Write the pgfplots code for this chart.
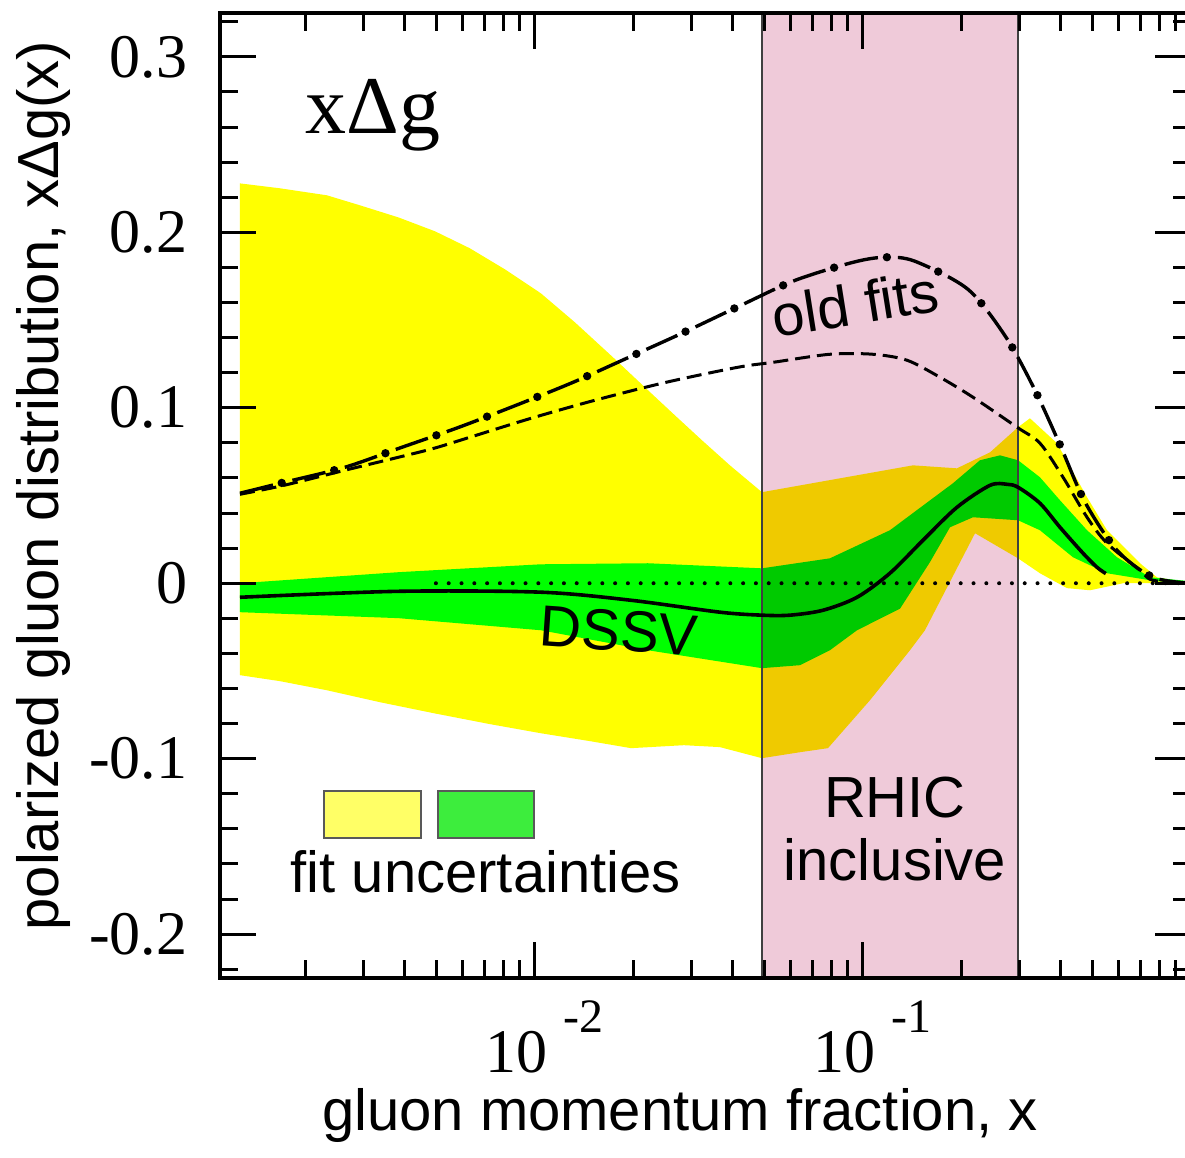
\documentclass[border=0pt]{standalone}
\usepackage{pgfplots}
\pgfplotsset{compat=1.18}
\usepackage{fontspec}
\setmainfont{Liberation Sans}
\newfontfamily\tnr{Liberation Serif}
\definecolor{bandyellow}{RGB}{255,255,0}
\definecolor{bandgreen}{RGB}{0,255,0}
\definecolor{rhicpink}{RGB}{239,202,217}
\definecolor{legyellow}{RGB}{255,255,102}
\definecolor{leggreen}{RGB}{61,237,61}
\newcommand{\lab}{\fontsize{14.5}{17}\selectfont}
\pgfplotstableread{
x y
0.001261 0.0513
0.001717 0.0575
0.002634 0.0661
0.003932 0.0775
0.005866 0.0889
0.008752 0.1014
0.01306 0.1145
0.01935 0.1288
0.02846 0.1430
0.04246 0.1584
0.06205 0.1726
0.09322 0.1829
0.1167 0.1858
0.1441 0.1835
0.2090 0.1675
0.2729 0.1402
0.3345 0.1100
0.4016 0.0775
0.4753 0.0462
0.5948 0.0188
0.7658 0.0034
1.0 0.0
}\dashdot
\begin{document}
\begin{tikzpicture}
\begin{axis}[
  at={(0,0)}, anchor=south west,
  scale only axis, width=242.75pt, height=241.25pt,
  xmode=log, xmin=1.096e-3, xmax=1, ymin=-0.225, ymax=0.325,
  axis on top,
  axis line style={line width=1pt},
  every tick/.style={black, line width=0.75pt},
  major tick length=9pt, minor tick length=4.5pt,
  tick align=inside,
  xtick={0.01,0.1},
  xticklabels={{10\hspace{4pt}\raisebox{10pt}{\fontsize{12}{12}\selectfont -2}},{10\hspace{4pt}\raisebox{10pt}{\fontsize{12}{12}\selectfont -1}}},
  minor xtick={0.002,0.003,0.004,0.005,0.006,0.007,0.008,0.009,0.02,0.03,0.04,0.05,0.06,0.07,0.08,0.09,0.2,0.3,0.4,0.5,0.6,0.7,0.8,0.9},
  ytick={-0.2,-0.1,0,0.1,0.2,0.3},
  yticklabels={-0.2,-0.1,0,0.1,0.2,0.3},
  minor ytick={-0.22,-0.18,-0.16,-0.14,-0.12,-0.08,-0.06,-0.04,-0.02,0.02,0.04,0.06,0.08,0.12,0.14,0.16,0.18,0.22,0.24,0.26,0.28,0.32},
  ticklabel style={font=\tnr\fontsize{15.5}{18}\selectfont},
  xticklabel style={anchor=base, inner sep=0pt, yshift=-23.5pt, xshift=2.4pt},
  yticklabel style={anchor=east, inner sep=0pt, xshift=-8pt},
  xlabel={gluon momentum fraction, x},
  xlabel style={at={(axis description cs:0.4737,0)}, anchor=base, inner sep=0pt, yshift=-38pt, font=\lab},
  ylabel={polarized gluon distribution, xΔg(x)},
  ylabel style={at={(axis description cs:-0.1668,0.5104)}, anchor=base, inner sep=0pt, font=\lab},
]
% yellow band
\addplot[draw=none, fill=bandyellow] coordinates {
(0.001261,0.2279) (0.001669,0.2251) (0.002322,0.2211) (0.002927,0.2154) (0.003836,0.2085)
(0.004956,0.2006) (0.006334,0.1909) (0.008101,0.1789) (0.01043,0.1652) (0.01324,0.1487)
(0.01729,0.1288) (0.02211,0.1100) (0.02671,0.0957) (0.03229,0.0815) (0.03930,0.0672)
(0.0492,0.0519) (0.1420,0.0672)
(0.1935,0.0655) (0.2439,0.0746) (0.2970,0.0889) (0.3229,0.0940) (0.3904,0.0798)
(0.4820,0.0490) (0.5546,0.0302) (0.6992,0.0114) (0.7875,0.0034) (1.0,0.0)
(0.6205,0.0) (0.4922,-0.0040) (0.4188,-0.0028) (0.3464,0.0057) (0.2970,0.0142)
(0.2196,0.0285) (0.1545,-0.0268) (0.1391,-0.0382) (0.1050,-0.0667) (0.0782,-0.0940)
(0.0643,-0.0963) (0.0492,-0.0997) (0.03664,-0.0934) (0.02846,-0.0923) (0.01963,-0.0940)
(0.01472,-0.0900) (0.01043,-0.0855) (0.007293,-0.0803) (0.004921,-0.0741) (0.003368,-0.0678)
(0.002322,-0.0610) (0.001669,-0.0558) (0.001261,-0.0524)
} -- cycle;
% green band
\addplot[draw=none, fill=bandgreen] coordinates {
(0.001261,0.0) (0.003836,0.0063) (0.01043,0.0108) (0.02211,0.0114) (0.0492,0.0085)
(0.0793,0.0142) (0.1208,0.0302) (0.1881,0.0570) (0.2274,0.0701) (0.2617,0.0729)
(0.2970,0.0701) (0.3464,0.0604) (0.3987,0.0473) (0.4820,0.0302) (0.5948,0.0148)
(0.7499,0.0034) (1.0,0.0011)
(1.0,-0.0006) (0.7499,0.0017) (0.5546,0.0057) (0.4368,0.0148) (0.3464,0.0302)
(0.2970,0.0359) (0.2165,0.0376) (0.1842,0.0319) (0.1600,0.0120) (0.1297,-0.0145)
(0.0959,-0.0268) (0.0793,-0.0382) (0.0643,-0.0467) (0.0492,-0.0484) (0.02211,-0.0382)
(0.01043,-0.0268) (0.003836,-0.0199) (0.001261,-0.0165)
} -- cycle;
% RHIC region
\addplot[draw=none, fill=rhicpink, blend mode=multiply] coordinates {
(0.0492,-0.225) (0.297,-0.225) (0.297,0.325) (0.0492,0.325)} -- cycle;
\addplot[black!75, line width=0.3pt] coordinates {(0.0492,-0.225) (0.0492,0.325)};
\addplot[black!75, line width=0.3pt] coordinates {(0.297,-0.225) (0.297,0.325)};
% zero line
\addplot[black, line width=1pt, line cap=round, dash pattern=on 0pt off 3.2pt] coordinates {(0.00499,0) (1.0,0)};
% DSSV central
\addplot[black, line width=0.9pt, smooth] coordinates {
(0.001261,-0.0080) (0.003836,-0.0046) (0.01043,-0.0051) (0.01963,-0.0097) (0.03664,-0.0165)
(0.0492,-0.0182) (0.0599,-0.0182) (0.0755,-0.0154) (0.0959,-0.0080) (0.1208,0.0057)
(0.1524,0.0245) (0.1935,0.0433) (0.2439,0.0558) (0.2748,0.0564) (0.2970,0.0547)
(0.3464,0.0456) (0.3987,0.0319) (0.4687,0.0171) (0.5169,0.0091) (0.5500,0.0055)
};
% old fit, dash-dot: dashes, then dots on the same path
\addplot[black, line width=0.85pt, smooth, dash pattern=on 8.5pt off 5pt] table {\dashdot};
\addplot[black, line width=2.1pt, smooth, line cap=round, dash pattern=on 0pt off 13.5pt, dash phase=2.75pt] table {\dashdot};
% old fit, dashed
\addplot[black, line width=0.75pt, smooth, dash pattern=on 3.75pt off 1.75pt] coordinates {
(0.001261,0.0507) (0.001717,0.0558) (0.002634,0.0644) (0.003836,0.0718) (0.004921,0.0769)
(0.006334,0.0832) (0.009723,0.0940) (0.01524,0.1043) (0.02508,0.1145) (0.04158,0.1231)
(0.05316,0.1259) (0.0793,0.1305) (0.1073,0.1305) (0.1362,0.1271) (0.1717,0.1174)
(0.2165,0.1060) (0.2950,0.0889) (0.3464,0.0798) (0.4073,0.0604) (0.4820,0.0376)
(0.5546,0.0228) (0.6992,0.0074) (0.7658,0.0017) (1.0,0.0)
};
% texts
\node[anchor=base west, inner sep=0pt, font=\tnr\fontsize{20.5}{24}\selectfont] at (axis cs:0.00199,0.2564) {xΔg};
\node[anchor=base west, inner sep=0pt, rotate=9, font=\lab] at (axis cs:0.0539,0.1402) {old fits};
\node[anchor=base west, inner sep=0pt, rotate=-4, font=\lab] at (axis cs:0.01021,-0.0353) {DSSV};
\node[anchor=base, inner sep=0pt, font=\lab] at (axis cs:0.1252,-0.1333) {RHIC};
\node[anchor=base, inner sep=0pt, font=\lab] at (axis cs:0.1252,-0.1692) {inclusive};
\node[anchor=base west, inner sep=0pt, font=\lab] at (axis cs:0.001791,-0.1761) {fit uncertainties};
\draw[draw=black!65, line width=0.4pt, fill=legyellow] (axis cs:0.002273,-0.1185) rectangle (axis cs:0.004492,-0.1453);
\draw[draw=black!65, line width=0.4pt, fill=leggreen] (axis cs:0.005061,-0.1185) rectangle (axis cs:0.009931,-0.1453);
\end{axis}
\pgfresetboundingbox
\useasboundingbox (-55pt,-44.75pt) rectangle (241.25pt,244.5pt);
\end{tikzpicture}
\end{document}
